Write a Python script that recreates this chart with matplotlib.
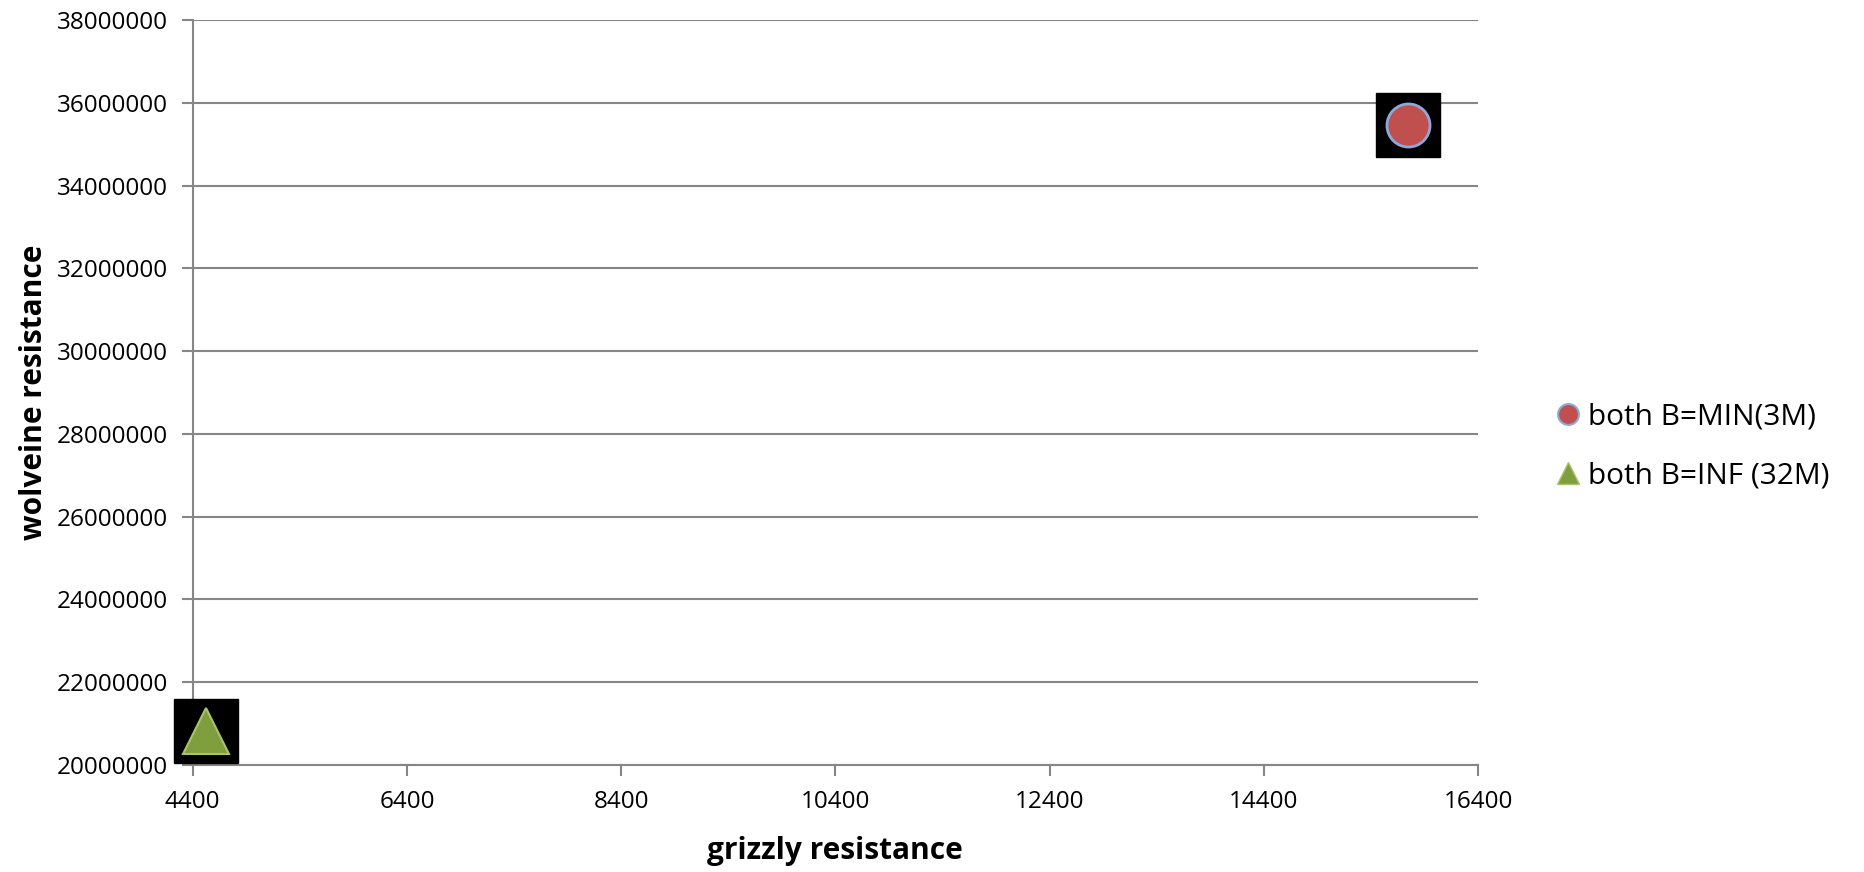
import matplotlib.pyplot as plt
from matplotlib.lines import Line2D

plt.rcParams['font.family'] = ['Open Sans', 'DejaVu Sans']

# data
series = ['both B=MIN(3M)', 'both B=INF (32M)']
grizzly = [15750, 4520]
wolveine = [35460000, 20810000]
xticks = [4400, 6400, 8400, 10400, 12400, 14400, 16400]
yticks = [20000000, 22000000, 24000000, 26000000, 28000000, 30000000,
          32000000, 34000000, 36000000, 38000000]

fig = plt.figure(figsize=(18.65, 8.72), dpi=100)
ax = fig.add_axes([0.1033, 0.1227, 0.6892, 0.8544])

grid_c = '#868686'
ax.set_xlim(4400, 16400)
ax.set_ylim(20000000, 38000000)
ax.set_xticks(xticks)
ax.set_yticks(yticks)
ax.set_xticklabels([str(v) for v in xticks])
ax.set_yticklabels([str(v) for v in yticks])
ax.grid(axis='y', color=grid_c, linewidth=1.5)
ax.set_axisbelow(True)
for s in ['top', 'right']:
    ax.spines[s].set_visible(False)
for s in ['left', 'bottom']:
    ax.spines[s].set_color(grid_c)
    ax.spines[s].set_linewidth(1.5)
ax.tick_params(axis='both', colors=grid_c, length=8, width=1.5,
               labelcolor='black', labelsize=17.5)
ax.tick_params(axis='x', pad=10)
ax.tick_params(axis='y', pad=10)

# black shadow squares behind each point
ax.plot(grizzly, wolveine, 's', color='black', markersize=46, linestyle='none',
        zorder=3, clip_on=False)
ax.plot(grizzly[0], wolveine[0], 'o', markerfacecolor='#C0504D',
        markeredgecolor='#8EA9D8', markeredgewidth=2, markersize=31,
        zorder=4, clip_on=False)
ax.plot(grizzly[1], wolveine[1], '^', markerfacecolor='#7F9F3E',
        markeredgecolor='#A9C46A', markeredgewidth=1.5, markersize=33,
        zorder=4, clip_on=False)

ax.set_xlabel('grizzly resistance', fontsize=21.5, fontweight='bold', labelpad=16)
ax.set_ylabel('wolveine resistance', fontsize=21.5, fontweight='bold', labelpad=5)

handles = [
    Line2D([], [], marker='o', linestyle='none', markerfacecolor='#C0504D',
           markeredgecolor='#8EA9D8', markeredgewidth=1.5, markersize=15),
    Line2D([], [], marker='^', linestyle='none', markerfacecolor='#7F9F3E',
           markeredgecolor='#A9C46A', markeredgewidth=1, markersize=16),
]
fig.legend(handles, series, loc='center left', bbox_to_anchor=(0.828, 0.488),
           frameon=False, fontsize=21.5, handlelength=0.8, handletextpad=0.25,
           labelspacing=1.0, borderaxespad=0)

fig.savefig('out.png', dpi=100)
